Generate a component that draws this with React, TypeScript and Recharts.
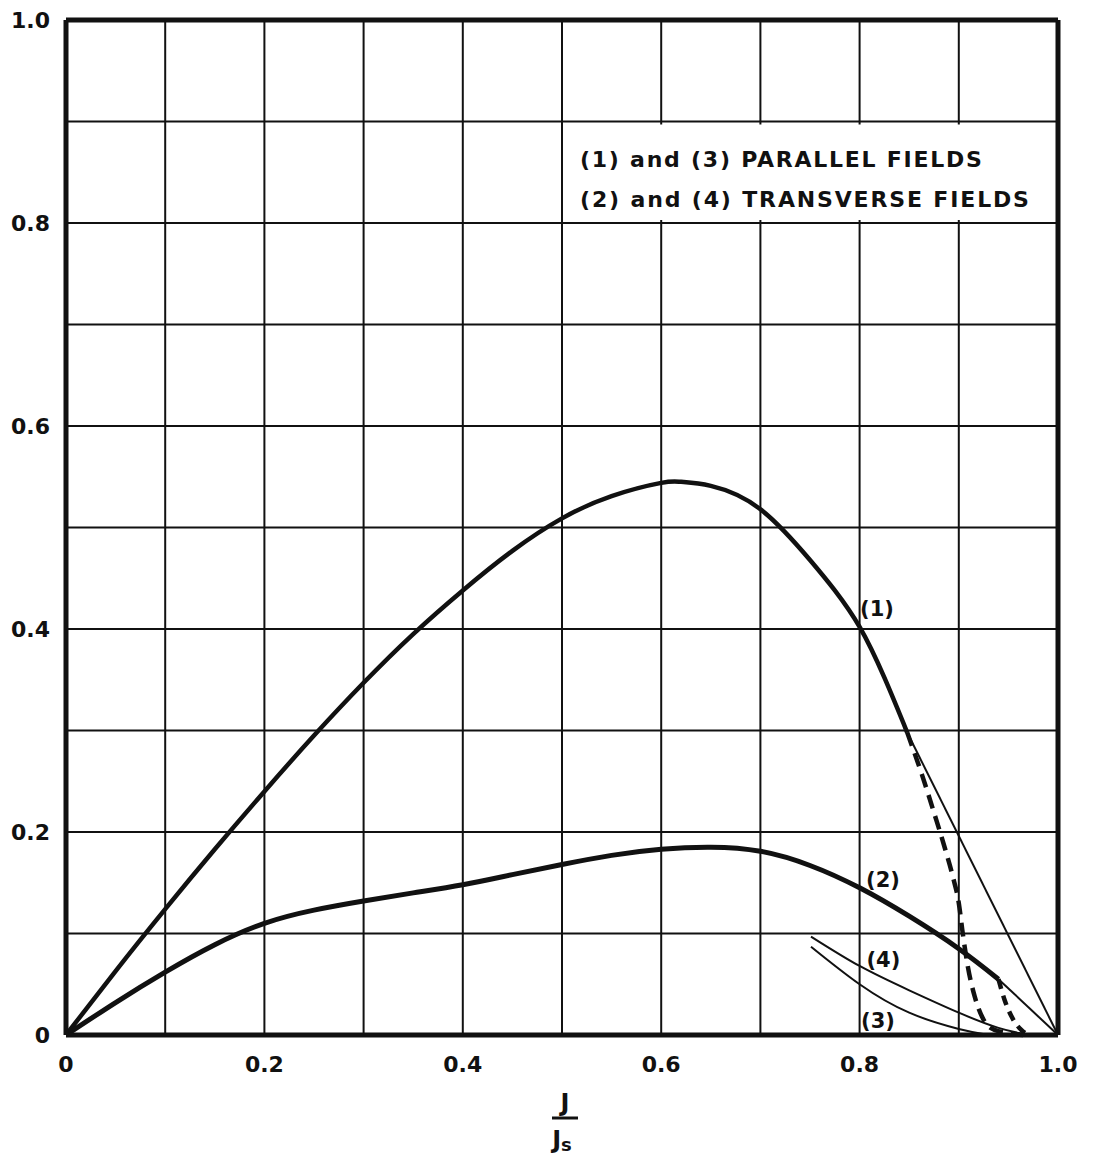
import React from "react";
import {
  LineChart,
  Line,
  XAxis,
  YAxis,
  CartesianGrid,
  ReferenceArea,
  ReferenceLine,
  ReferenceDot,
} from "recharts";

// grid ticks every 0.1, labels every 0.2
const xTicks = [0, 0.1, 0.2, 0.3, 0.4, 0.5, 0.6, 0.7, 0.8, 0.9, 1.0];
const xTickLabels = ["0", "", "0.2", "", "0.4", "", "0.6", "", "0.8", "", "1.0"];
const yTicks = [0, 0.1, 0.2, 0.3, 0.4, 0.5, 0.6, 0.7, 0.8, 0.9, 1.0];
const yTickLabels = ["0", "", "0.2", "", "0.4", "", "0.6", "", "0.8", "", "1.0"];

// curve (1), solid part
const c1X = [0, 0.05, 0.1, 0.15, 0.2, 0.25, 0.3, 0.35, 0.4, 0.45, 0.5, 0.55, 0.6, 0.62, 0.65, 0.7, 0.75, 0.775, 0.8, 0.825, 0.848];
const c1Y = [0, 0.063, 0.124, 0.183, 0.24, 0.295, 0.347, 0.395, 0.438, 0.477, 0.509, 0.531, 0.544, 0.545, 0.541, 0.518, 0.468, 0.438, 0.402, 0.352, 0.298];
// curve (1), dashed tail
const c1DashX = [0.848, 0.863, 0.876, 0.886, 0.894, 0.9, 0.904, 0.909, 0.916, 0.925, 0.936, 0.95, 0.965];
const c1DashY = [0.298, 0.256, 0.216, 0.184, 0.156, 0.13, 0.1, 0.068, 0.038, 0.015, 0.005, 0.002, 0];
// curve (1), thin straight continuation
const c1ThinX = [0.848, 1.0];
const c1ThinY = [0.298, 0];

// curve (2)
const c2X = [0, 0.05, 0.1, 0.15, 0.2, 0.25, 0.3, 0.35, 0.4, 0.45, 0.5, 0.55, 0.6, 0.65, 0.7, 0.75, 0.8, 0.85, 0.9, 0.94];
const c2Y = [0, 0.032, 0.062, 0.089, 0.11, 0.123, 0.132, 0.14, 0.148, 0.158, 0.168, 0.177, 0.183, 0.185, 0.181, 0.167, 0.145, 0.117, 0.085, 0.055];
const c2DashX = [0.94, 0.946, 0.955, 0.963, 0.97];
const c2DashY = [0.055, 0.035, 0.015, 0.005, 0];
const c2ThinX = [0.94, 1.0];
const c2ThinY = [0.055, 0];

// curves (3) and (4)
const c3X = [0.751, 0.8, 0.85, 0.9, 0.93];
const c3Y = [0.087, 0.05, 0.022, 0.006, 0];
const c4X = [0.751, 0.8, 0.85, 0.9, 0.94, 0.97];
const c4Y = [0.097, 0.068, 0.044, 0.022, 0.007, 0];

const legendLines = ["(1) and (3)  PARALLEL FIELDS", "(2) and (4)  TRANSVERSE FIELDS"];
const curveLabels = ["(1)", "(2)", "(4)", "(3)"];
const curveLabelX = [0.8175, 0.8236, 0.824, 0.8185];
const curveLabelY = [0.42, 0.153, 0.074, 0.014];

const pts = (xs: number[], ys: number[]) => xs.map((x, i) => ({ x, y: ys[i] }));

const FONT = "'DejaVu Sans', sans-serif";
const INK = "#111";

function LegendText(props: any) {
  const vb = props.viewBox || {};
  return (
    <g fontSize={22} fontFamily={FONT} fontWeight="bold" fill={INK}>
      <text x={vb.x + 16} y={vb.y + 42} textLength={402} lengthAdjust="spacing">
        {legendLines[0]}
      </text>
      <text x={vb.x + 16} y={vb.y + 82} textLength={449} lengthAdjust="spacing">
        {legendLines[1]}
      </text>
    </g>
  );
}

function AxisFraction(props: any) {
  const vb = props.viewBox || {};
  const cx = vb.x + vb.width / 2 + 3;
  const top = vb.y;
  return (
    <g fontFamily={FONT} fill={INK} fontSize={24} fontWeight="bold">
      <text x={cx} y={top + 76} textAnchor="middle">J</text>
      <line x1={cx - 13} x2={cx + 13} y1={top + 83} y2={top + 83} stroke={INK} strokeWidth={3} />
      <text x={cx - 3} y={top + 113} textAnchor="middle">
        J<tspan fontSize={18} dy={3}>s</tspan>
      </text>
    </g>
  );
}

const lineCommon = { dataKey: "y", stroke: INK, dot: false, activeDot: false, isAnimationActive: false } as const;

export default function App() {
  return (
    <div style={{ width: 1079, height: 1150, background: "#fff" }}>
      <LineChart
        width={1079}
        height={1150}
        margin={{ top: 12, right: 29, left: 18, bottom: 93 }}
      >
        <CartesianGrid stroke={INK} strokeWidth={2} horizontalValues={yTicks} verticalValues={xTicks} />
        <XAxis
          type="number"
          dataKey="x"
          domain={[0, 1]}
          ticks={xTicks}
          tickFormatter={(_v: number, i: number) => xTickLabels[i]}
          tickSize={0}
          tickMargin={21}
          axisLine={{ stroke: INK, strokeWidth: 5 }}
          tick={{ fill: INK, fontSize: 22, fontFamily: FONT, fontWeight: "bold" }}
          height={30}
          interval={0}
          label={AxisFraction}
        />
        <YAxis
          type="number"
          dataKey="y"
          domain={[0, 1]}
          ticks={yTicks}
          tickFormatter={(_v: number, i: number) => yTickLabels[i]}
          tickSize={0}
          tickMargin={16}
          axisLine={{ stroke: INK, strokeWidth: 5 }}
          tick={{ fill: INK, fontSize: 22, fontFamily: FONT, fontWeight: "bold" }}
          width={40}
          interval={0}
        />
        <ReferenceArea
          x1={0.502}
          x2={0.996}
          y1={0.803}
          y2={0.897}
          fill="#fff"
          fillOpacity={1}
          stroke="none"
          label={LegendText}
        />
        <ReferenceLine x={1} stroke={INK} strokeWidth={5} />
        <ReferenceLine y={1} stroke={INK} strokeWidth={5} />

        <Line {...lineCommon} data={pts(c1X, c1Y)} type="natural" strokeWidth={4.5} />
        <Line {...lineCommon} data={pts(c1DashX, c1DashY)} type="monotone" strokeWidth={4.5} strokeDasharray="14 8" />
        <Line {...lineCommon} data={pts(c1ThinX, c1ThinY)} type="linear" strokeWidth={2} />
        <Line {...lineCommon} data={pts(c2X, c2Y)} type="natural" strokeWidth={5} />
        <Line {...lineCommon} data={pts(c2DashX, c2DashY)} type="monotone" strokeWidth={4.5} strokeDasharray="10 7" />
        <Line {...lineCommon} data={pts(c2ThinX, c2ThinY)} type="linear" strokeWidth={2} />
        <Line {...lineCommon} data={pts(c3X, c3Y)} type="natural" strokeWidth={2} />
        <Line {...lineCommon} data={pts(c4X, c4Y)} type="natural" strokeWidth={2} />

        {curveLabels.map((t, i) => (
          <ReferenceDot
            key={t}
            x={curveLabelX[i]}
            y={curveLabelY[i]}
            r={0}
            fill="none"
            stroke="none"
            label={{ value: t, position: "center", fontSize: 21, fontFamily: FONT, fontWeight: "bold", fill: INK }}
          />
        ))}
      </LineChart>
    </div>
  );
}
